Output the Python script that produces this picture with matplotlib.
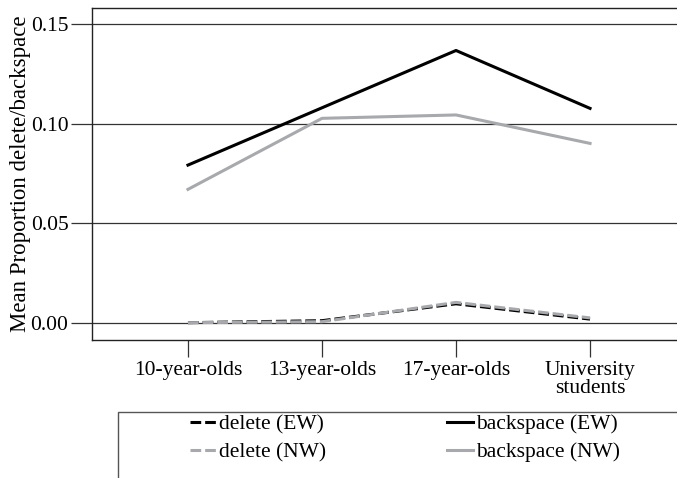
import matplotlib
matplotlib.use("Agg")
import matplotlib.pyplot as plt
from matplotlib.patches import Rectangle

categories = ["10-year-olds", "13-year-olds", "17-year-olds", "University\nstudents"]
delete_ew = [0.0000, 0.0010, 0.0095, 0.0018]
delete_nw = [0.0000, 0.0005, 0.0102, 0.0024]
backspace_ew = [0.0792, 0.1080, 0.1368, 0.1077]
backspace_nw = [0.0670, 0.1027, 0.1044, 0.0901]
yticks = [0.00, 0.05, 0.10, 0.15]
ytick_labels = ["0.00", "0.05", "0.10", "0.15"]

plt.rcParams['font.family'] = ['Liberation Serif', 'DejaVu Serif']

W, H = 677, 478
fig = plt.figure(figsize=(W/100, H/100), dpi=100)
ax = fig.add_axes([92/W, 1-340/H, (686-92)/W, (340-8.3)/H])

x = list(range(len(categories)))
grey = '#a7a9ac'
l1, = ax.plot(x, delete_ew, color='black', lw=2.2, ls=(0, (3.5, 1.3)), label='delete (EW)', zorder=3)
l2, = ax.plot(x, delete_nw, color=grey, lw=2.2, ls=(0, (3.5, 1.3)), label='delete (NW)', zorder=4)
l3, = ax.plot(x, backspace_ew, color='black', lw=2.2, label='backspace (EW)', zorder=3)
l4, = ax.plot(x, backspace_nw, color=grey, lw=2.2, label='backspace (NW)', zorder=3)

ax.set_xlim(-0.716, 3.716)
ax.set_ylim(-0.0087, 0.158)
ax.set_yticks(yticks)
ax.set_yticklabels(ytick_labels)
ax.set_xticks(x)
ax.set_xticklabels(categories, linespacing=0.95)
ax.grid(axis='y', color='#333333', lw=0.9)
ax.set_axisbelow(True)
ax.tick_params(axis='y', length=15, width=0.9, color='#333333', labelsize=15.5, pad=2)
ax.tick_params(axis='x', length=12, width=0.9, color='#333333', labelsize=15.5, pad=3)
for s in ax.spines.values():
    s.set_linewidth(1.0)
    s.set_color('#222222')
ax.set_ylabel("Mean Proportion delete/backspace", fontsize=16.5, labelpad=0)

fig.patches.append(Rectangle((118/W, -0.1), 1.0, 1-412/H + 0.1, transform=fig.transFigure,
                             fill=False, edgecolor='#555555', lw=1.0))
leg = fig.legend([l1, l2, l3, l4], ['delete (EW)', 'delete (NW)', 'backspace (EW)', 'backspace (NW)'],
                 ncol=2, loc='upper left', bbox_to_anchor=(190/W, 1-414/H), frameon=False,
                 fontsize=15.5, handlelength=1.2, handletextpad=0.15, columnspacing=5.6,
                 labelspacing=0.38, borderaxespad=0, borderpad=0)

fig.savefig("out.png", dpi=100)
